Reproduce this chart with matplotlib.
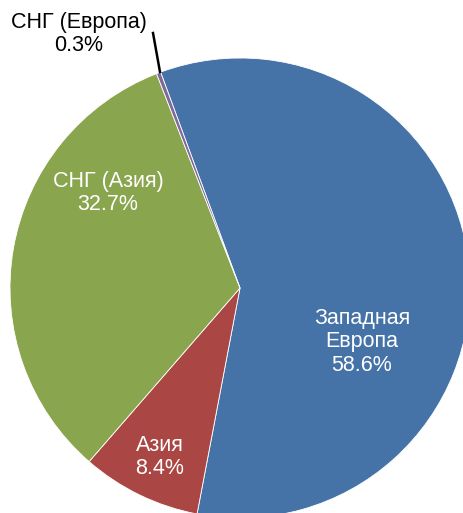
import matplotlib.pyplot as plt

plt.rcParams['font.family'] = ['Liberation Sans', 'DejaVu Sans']

# регионы и доли, %
regions = ['Западная\nЕвропа', 'Азия', 'СНГ (Азия)', 'СНГ (Европа)']
shares = [58.6, 8.4, 32.7, 0.3]
colors = ['#4572A7', '#AA4643', '#89A54E', '#80699B']

W, H = 463, 513
cx, cy, R = 240, 288, 230  # центр и радиус круга в пикселях


def px(x, y):
    # пиксели картинки -> координаты осей (радиус круга = 1)
    return (x - cx) / R, (cy - y) / R


fig = plt.figure(figsize=(W / 100, H / 100), dpi=100)
ax = fig.add_axes([0, 0, 1, 1])
ax.pie(shares, colors=colors, startangle=110.2, counterclock=False,
       radius=1, wedgeprops=dict(edgecolor='white', linewidth=0.6))

x0, y0 = px(0, 0)
x1, y1 = px(W, H)
ax.set_xlim(x0, x1)
ax.set_ylim(y1, y0)
ax.set_aspect('equal')
ax.axis('off')

label_pos = [(362, 342, 'white'), (160, 457, 'white'),
             (108, 193, 'white'), (79, 34, 'black')]
for name, val, (x, y, c) in zip(regions, shares, label_pos):
    ax.text(*px(x, y), f'{name}\n{val:.1f}%', ha='center', va='center',
            color=c, fontsize=15.5, linespacing=1.15)

# выноска для маленького сектора
ax.plot(*zip(px(153, 33), px(160, 72)), color='black', lw=1.8)

fig.savefig('out.png', dpi=100)
